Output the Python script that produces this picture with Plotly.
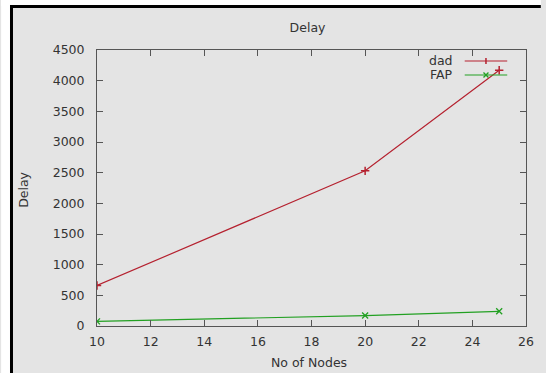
import plotly.graph_objects as go

nodes = [10, 20, 25]
dad_delay = [660, 2530, 4170]
fap_delay = [75, 170, 240]
x_ticks = [10, 12, 14, 16, 18, 20, 22, 24, 26]
y_ticks = [0, 500, 1000, 1500, 2000, 2500, 3000, 3500, 4000, 4500]

W, H = 546, 373
L, R, T, B = 97, 531, 50, 326
RED = "#b5212f"
GREEN = "#22a022"
GRAY = "#e4e4e4"
FONT = dict(family="DejaVu Sans", size=12.5, color="#333333")


def xp(px):
    return (px - L) / (R - L)


def yp(py):
    return (B - py) / (B - T)


fig = go.Figure()
fig.add_trace(go.Scatter(x=nodes, y=dad_delay, mode="lines+markers", name="dad",
                         line=dict(color=RED, width=1.2),
                         marker=dict(symbol="cross-thin-open", size=6,
                                     line=dict(color=RED, width=1.5))))
fig.add_trace(go.Scatter(x=nodes, y=fap_delay, mode="lines+markers", name="FAP",
                         line=dict(color=GREEN, width=1.2),
                         marker=dict(symbol="x-thin-open", size=6,
                                     line=dict(color=GREEN, width=1.3))))

axis_common = dict(showline=True, linecolor="#555555", linewidth=1, mirror="ticks",
                   ticks="inside", ticklen=6, tickcolor="#555555", showgrid=False,
                   zeroline=False, tickfont=FONT)
fig.update_xaxes(range=[10, 26], tickvals=x_ticks, ticklabelstandoff=4, **axis_common)
fig.update_yaxes(range=[0, 4500], tickvals=y_ticks, ticklabelstandoff=9, **axis_common)

shapes = [
    # white outside strips
    dict(type="rect", xref="paper", yref="paper", x0=xp(0), x1=xp(10), y0=yp(H), y1=yp(0),
         fillcolor="white", line=dict(width=0), layer="above"),
    dict(type="rect", xref="paper", yref="paper", x0=xp(0), x1=xp(W), y0=yp(6), y1=yp(0),
         fillcolor="white", line=dict(width=0), layer="above"),
    # black frame lines
    dict(type="line", xref="paper", yref="paper", x0=xp(10.5), x1=xp(10.5), y0=yp(H), y1=yp(5),
         line=dict(color="black", width=3), layer="above"),
    dict(type="line", xref="paper", yref="paper", x0=xp(9), x1=xp(W), y0=yp(6.5), y1=yp(6.5),
         line=dict(color="black", width=3), layer="above"),
    # legend samples
    dict(type="line", xref="paper", yref="paper", x0=xp(469), x1=xp(512), y0=yp(61), y1=yp(61),
         line=dict(color=RED, width=1.2)),
    dict(type="line", xref="paper", yref="paper", x0=xp(469), x1=xp(512), y0=yp(75), y1=yp(75),
         line=dict(color=GREEN, width=1.2)),
    dict(type="line", xref="paper", yref="paper", x0=xp(490.5), x1=xp(490.5), y0=yp(58), y1=yp(64),
         line=dict(color=RED, width=1.5)),
    dict(type="line", xref="paper", yref="paper", x0=xp(488), x1=xp(493), y0=yp(72.5), y1=yp(77.5),
         line=dict(color=GREEN, width=1.3)),
    dict(type="line", xref="paper", yref="paper", x0=xp(488), x1=xp(493), y0=yp(77.5), y1=yp(72.5),
         line=dict(color=GREEN, width=1.3)),
]

annotations = [
    dict(text="dad", xref="paper", yref="paper", x=xp(459), y=yp(61), xanchor="right",
         yanchor="middle", showarrow=False, font=FONT),
    dict(text="FAP", xref="paper", yref="paper", x=xp(459), y=yp(75), xanchor="right",
         yanchor="middle", showarrow=False, font=FONT),
    dict(text="No of Nodes", xref="paper", yref="paper", x=xp(311), y=yp(362), xanchor="center",
         yanchor="middle", showarrow=False, font=FONT),
    dict(text="Delay", xref="paper", yref="paper", x=xp(22), y=yp(190), xanchor="center",
         yanchor="middle", textangle=-90, showarrow=False, font=FONT),
]

fig.update_layout(
    width=W, height=H,
    margin=dict(l=L, r=W - R, t=T, b=H - B, pad=0),
    paper_bgcolor=GRAY, plot_bgcolor=GRAY,
    showlegend=False,
    title=dict(text="Delay", x=xp(310), xanchor="center", xref="paper",
               y=1 - 28 / H, yanchor="middle", yref="container", font=FONT),
    font=FONT,
    shapes=shapes,
    annotations=annotations,
)

fig.write_html("out.html", config={"displayModeBar": False},
               post_script="document.body.style.margin='0';document.body.style.overflow='hidden';")
